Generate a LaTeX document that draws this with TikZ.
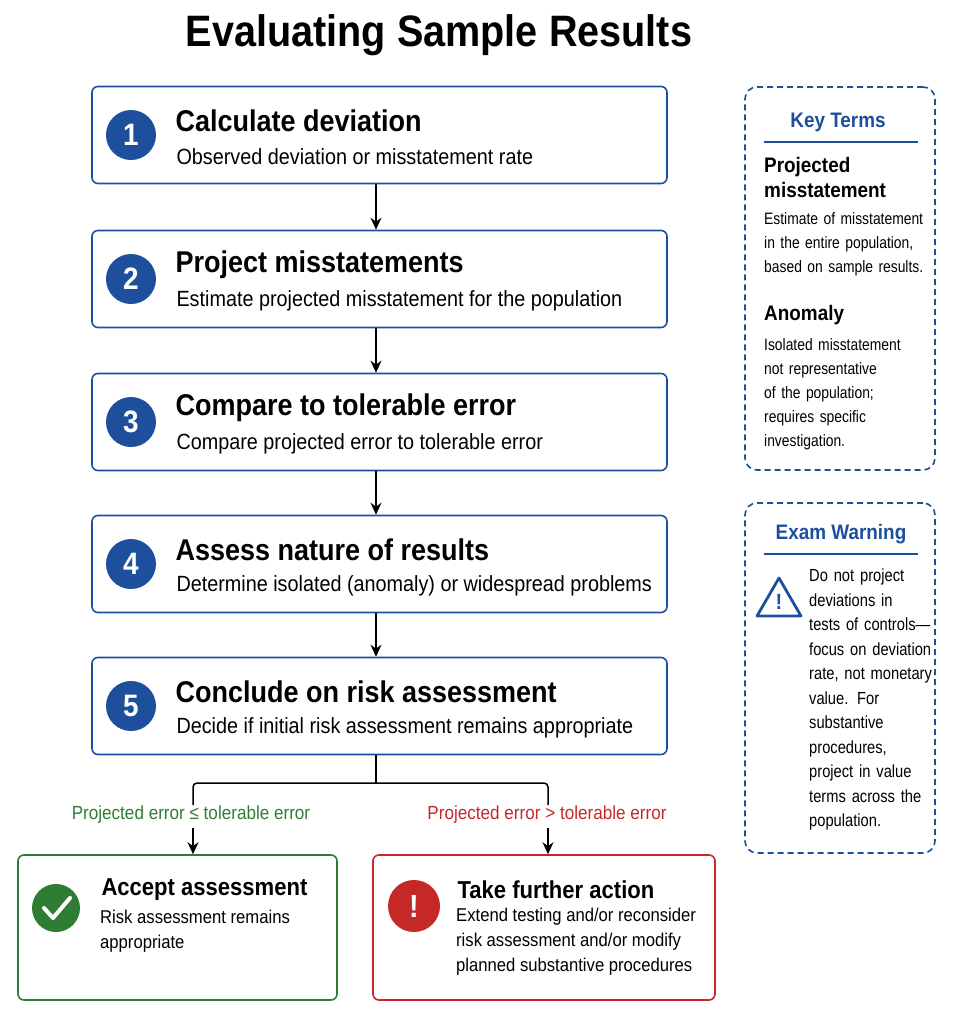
\documentclass[tikz,border=0pt]{standalone}
\usepackage{fontspec}
\setmainfont{Liberation Sans}[FakeStretch=0.9]
\newfontfamily\narrowf{Liberation Sans}[FakeStretch=0.84]
\usetikzlibrary{arrows.meta}
\begin{document}
\definecolor{bl}{HTML}{1D4F9C}
\definecolor{gr}{HTML}{2E7D32}
\definecolor{rd}{HTML}{C62828}
\begin{tikzpicture}[x=1pt,y=-1pt,
stepbox/.style={draw=bl,line width=1.6pt,rounded corners=6pt,minimum width=575pt,minimum height=97pt},
num/.style={circle,fill=bl,minimum size=50pt,inner sep=0,text=white,font=\fontsize{31}{31}\selectfont\bfseries},
ttl/.style={anchor=west,font=\fontsize{30}{32}\selectfont\bfseries},
sub/.style={anchor=west,font=\fontsize{22}{24}\selectfont},
arr/.style={-{Stealth[length=12pt,width=11pt]},line width=1.5pt},
side/.style={draw=bl,dash pattern=on 6pt off 4pt,line width=1.6pt,rounded corners=12pt},
stxt/.style={anchor=north west,align=left,font=\narrowf\fontsize{16.5}{24}\selectfont,text width=200pt,inner sep=0}]
\useasboundingbox (0,0) rectangle (953,1018);
\node[font=\fontsize{44}{46}\selectfont\bfseries] (title) at (439,35) {Evaluating Sample Results};
\foreach \i/\y/\t/\s in {1/135/Calculate deviation/Observed deviation or misstatement rate,
2/279/Project misstatements/Estimate projected misstatement for the population,
3/422/Compare to tolerable error/Compare projected error to tolerable error,
4/564/Assess nature of results/Determine isolated (anomaly) or widespread problems,
5/706/Conclude on risk assessment/Decide if initial risk assessment remains appropriate}{
\node[stepbox] (b\i) at (379.5,\y) {};
\node[num] (n\i) at (131,\y) {\i};
\node[ttl] (t\i) at (172,\y-14) {\t};
\node[sub] (s\i) at (173,\y+22) {\s};
}
\foreach \a/\b in {1/2,2/3,3/4,4/5}{\draw[arr] (b\a.south -| 376,0) -- (b\b.north -| 376,0);}
% branches
\node[draw=gr,line width=1.6pt,rounded corners=6pt,minimum width=319pt,minimum height=145pt] (acc) at (177.5,927.5) {};
\node[draw=rd,line width=1.6pt,rounded corners=6pt,minimum width=342pt,minimum height=145pt] (act) at (544,927.5) {};
\coordinate (j) at (376,783);
\coordinate (jl) at (193,783);
\coordinate (jr) at (548,783);
\draw[line width=1.5pt] (b5.south -| j) -- (j);
\draw[line width=1.5pt,rounded corners=4pt] (193,805) -- (jl) -- (jr) -- (548,805);
\draw[arr] (193,828) -- (acc.north -| 193,0);
\draw[arr] (548,828) -- (act.north -| 548,0);
\node[text=gr,font=\fontsize{19}{20}\selectfont] (lg) at (191,815) {Projected error ≤ tolerable error};
\node[text=rd,font=\fontsize{19}{20}\selectfont] (lr) at (547,815) {Projected error > tolerable error};
\node[circle,fill=gr,minimum size=48pt,inner sep=0] (ck) at (56,908) {};
\draw[white,line width=4pt,line cap=round,line join=round] (44,908) -- (53,918) -- (70,898);
\node[ttl,font=\fontsize{24.5}{26}\selectfont\bfseries] (at) at (98,890) {Accept assessment};
\node[anchor=north west,align=left,font=\fontsize{18.5}{25}\selectfont,inner sep=0] (as) at (100,910) {Risk assessment remains\\appropriate};
\node[circle,fill=rd,minimum size=52pt,inner sep=0,text=white,font=\fontsize{32}{32}\selectfont\bfseries] (ex) at (414,906) {!};
\node[ttl,font=\fontsize{24.5}{26}\selectfont\bfseries] (xt) at (454,890) {Take further action};
\node[anchor=north west,align=left,font=\fontsize{18.5}{25}\selectfont,inner sep=0] (xs) at (456,908) {Extend testing and/or reconsider\\risk assessment and/or modify\\planned substantive procedures};
% side boxes
\node[side,minimum width=190pt,minimum height=383pt] (kt) at (840,278.5) {};
\node[text=bl,font=\fontsize{21}{22}\selectfont\bfseries] (ktt) at (838,122) {Key Terms};
\draw[bl,line width=1.2pt] (764,142) -- (918,142);
\node[stxt,font=\fontsize{21}{25}\selectfont\bfseries] (p1) at (764,157) {Projected\\misstatement};
\node[stxt] (p2) at (764,212) {Estimate of misstatement\\in the entire population,\\based on sample results.};
\node[stxt,font=\fontsize{21}{25}\selectfont\bfseries] (a1) at (764,305) {Anomaly};
\node[stxt] (a2) at (764,338) {Isolated misstatement\\not representative\\of the population;\\requires specific\\investigation.};
\node[side,minimum width=190pt,minimum height=350pt] (ew) at (840,678) {};
\node[text=bl,font=\fontsize{21}{22}\selectfont\bfseries] (ewt) at (841,534) {Exam Warning};
\draw[bl,line width=1.2pt] (764,554) -- (918,554);
\draw[bl,line width=2.8pt,line join=round] (779,578) -- (801,616) -- (757,616) -- cycle;
\node[text=bl,font=\fontsize{22}{22}\selectfont\bfseries] (wi) at (779,602) {!};
\node[stxt,font=\narrowf\fontsize{17.5}{24.5}\selectfont,text width=160pt] (wt) at (809,569) {Do not project\\deviations in\\tests of controls—\\focus on deviation\\rate, not monetary\\value. For\\substantive\\procedures,\\project in value\\terms across the\\population.};
\end{tikzpicture}
\end{document}
